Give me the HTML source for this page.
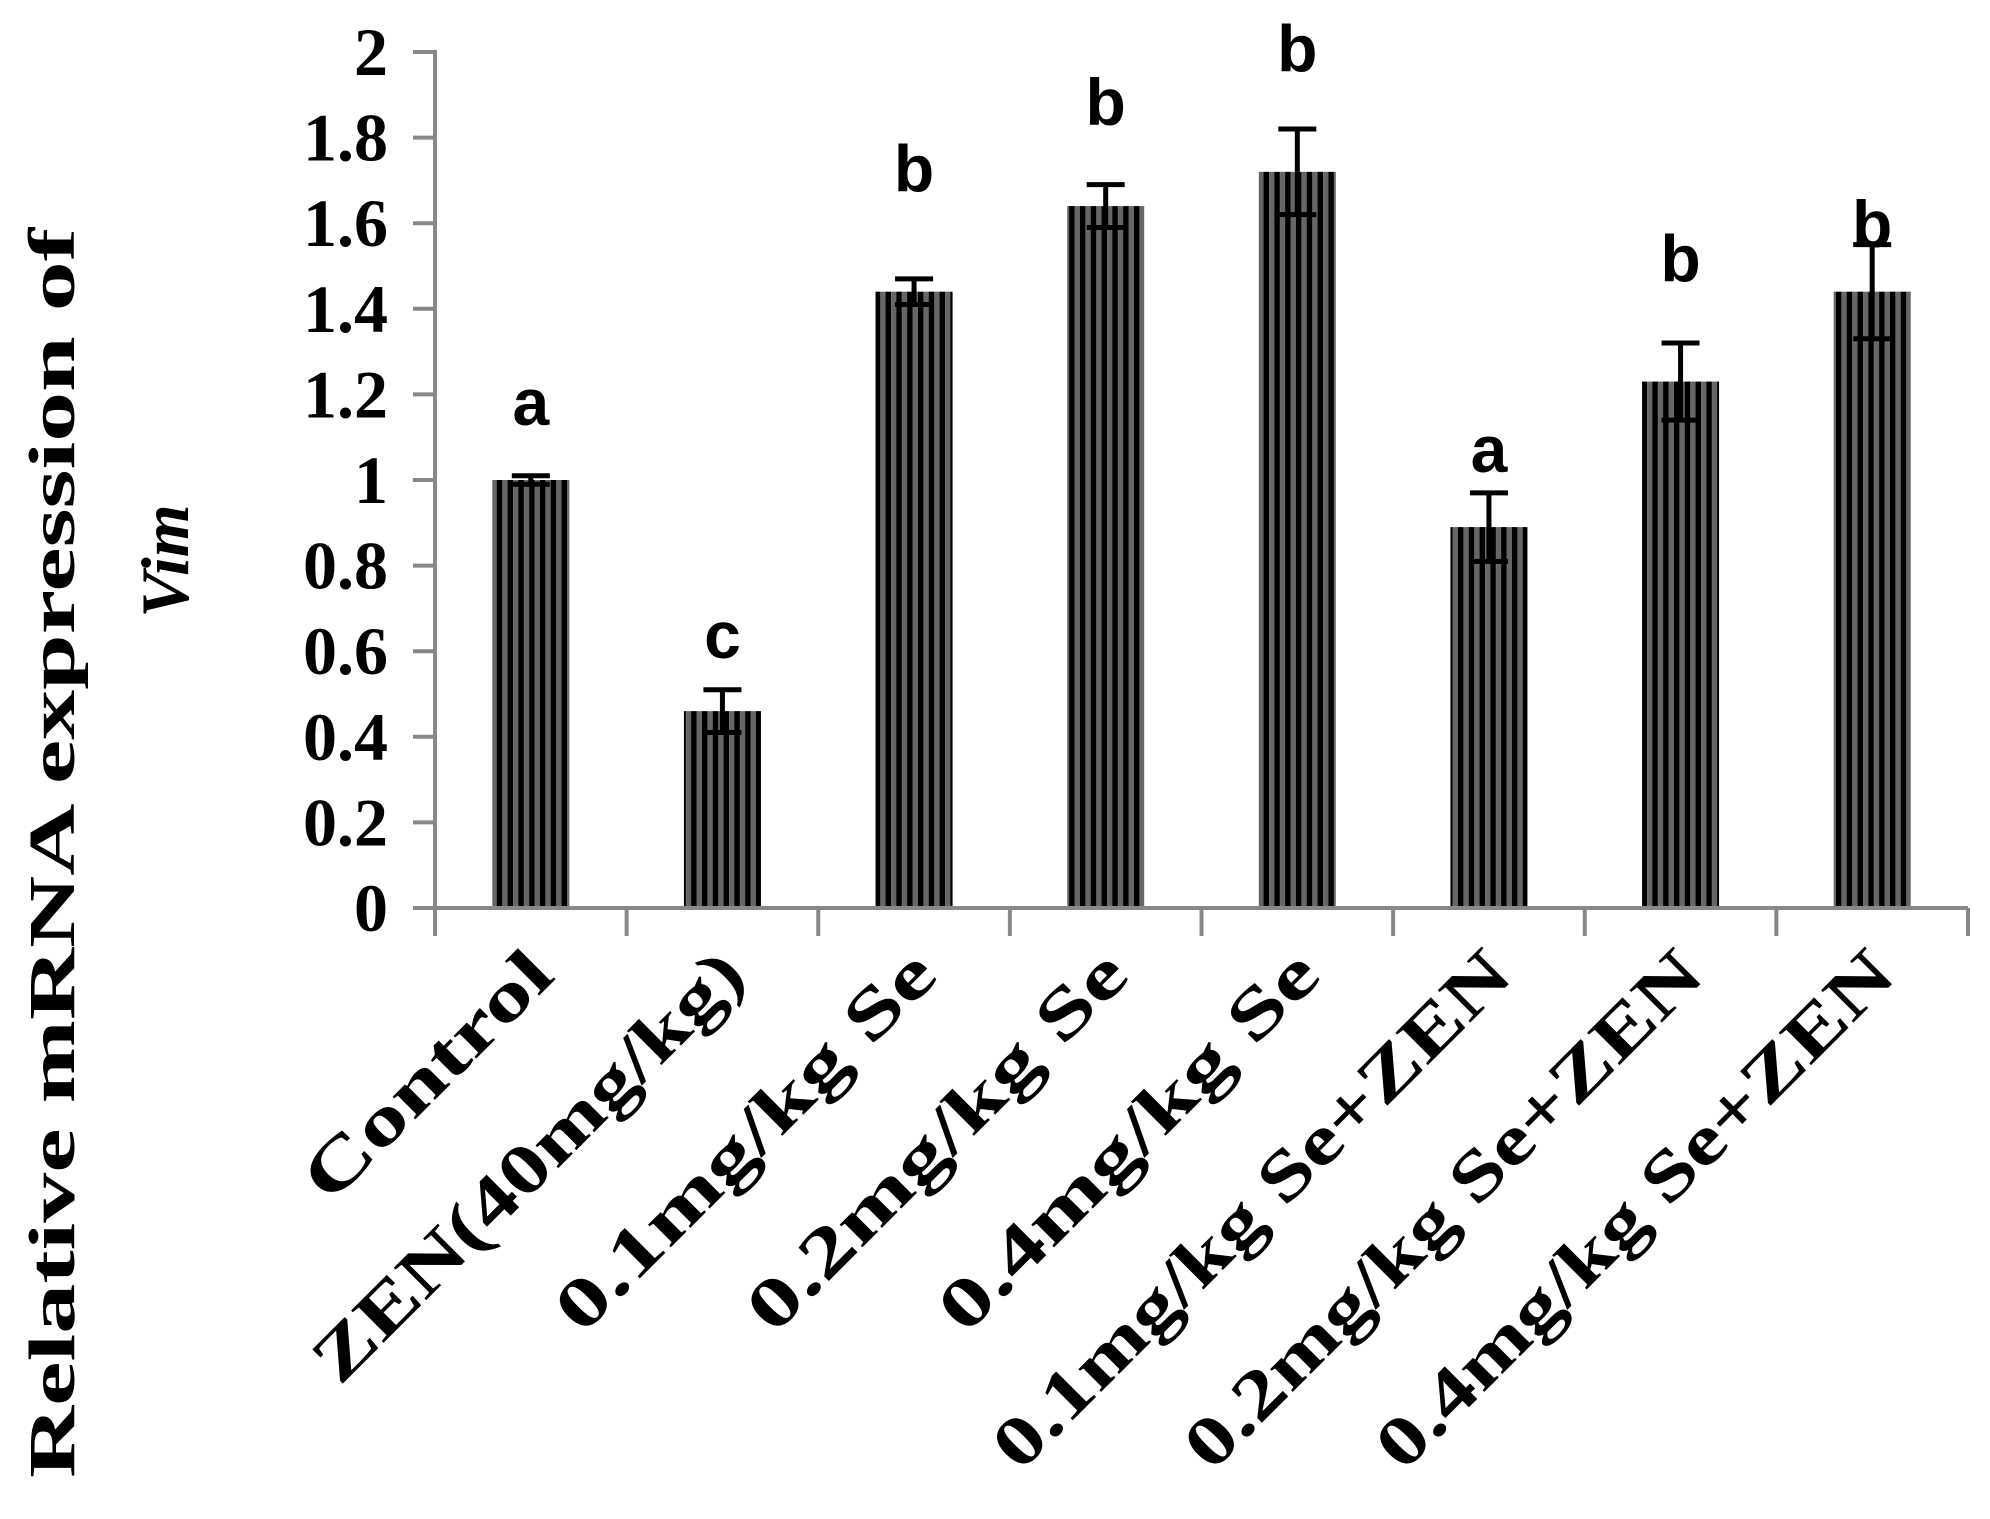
<!DOCTYPE html>
<html><head><meta charset="utf-8"><style>
html,body{margin:0;padding:0;background:#fff;}
svg{display:block;}
</style></head><body>
<svg id="chart" width="1990" height="1519" viewBox="0 0 1990 1519" xmlns="http://www.w3.org/2000/svg">
<defs>
<pattern id="stripes" patternUnits="userSpaceOnUse" width="10.8" height="10">
<rect x="0" y="0" width="5.6" height="10" fill="#000"/>
<rect x="5.6" y="0" width="5.2" height="10" fill="#666"/>
</pattern>
</defs>
<g id="plot"></g>
<text transform="translate(74,853) rotate(-90)" text-anchor="middle" font-family="'Liberation Serif',serif" font-weight="bold" font-size="66" textLength="1250" lengthAdjust="spacingAndGlyphs">Relative mRNA expression of</text>
<text transform="translate(188,561) rotate(-90)" text-anchor="middle" font-family="'Liberation Serif',serif" font-weight="bold" font-style="italic" font-size="68">Vim</text>
</svg>
<script>
const categories = ["Control","ZEN(40mg/kg)","0.1mg/kg Se","0.2mg/kg Se","0.4mg/kg Se","0.1mg/kg Se+ZEN","0.2mg/kg Se+ZEN","0.4mg/kg Se+ZEN"];
const values = [1.0,0.46,1.44,1.64,1.72,0.89,1.23,1.44];
const errors = [0.01,0.05,0.03,0.05,0.10,0.08,0.09,0.11];
const letters = ["a","c","b","b","b","a","b","b"];
const letterPos = [1.185,0.64,1.73,1.885,2.01,1.075,1.52,1.60];
const yTicks = [0,0.2,0.4,0.6,0.8,1,1.2,1.4,1.6,1.8,2];
const yTickLabels = ["0","0.2","0.4","0.6","0.8","1","1.2","1.4","1.6","1.8","2"];

const NS="http://www.w3.org/2000/svg";
const X0=435, X1=1968, Y0=908, Y1=52, YMAX=2;
const band=(X1-X0)/categories.length;
const y=v=>Y0-(v/YMAX)*(Y0-Y1);
const xc=i=>X0+band*(i+0.5);
const g=document.getElementById('plot');
function mk(tag,attrs){const e=document.createElementNS(NS,tag);for(const k in attrs)e.setAttribute(k,attrs[k]);g.appendChild(e);return e;}

values.forEach((v,i)=>{
  const bw=77;
  const r=mk('rect',{x:xc(i)-bw/2,y:y(v),width:bw,height:Y0-y(v),fill:'url(#stripes)'});
  
  
  const cx=xc(i), cw=19;
  const eb=mk('path',{d:`M${cx},${y(v+errors[i])}V${y(v-errors[i])}M${cx-cw},${y(v+errors[i])}H${cx+cw}M${cx-cw},${y(v-errors[i])}H${cx+cw}`,stroke:'#000','stroke-width':5,fill:'none'});
  
  
  const t=mk('text',{x:cx,y:y(letterPos[i])+24,'text-anchor':'middle','font-family':"'Liberation Sans',sans-serif",'font-weight':'bold','font-size':66});
  t.textContent=letters[i];
  
  
});

const ya=mk('line',{x1:X0,y1:Y1-2,x2:X0,y2:Y0+2,stroke:'#888','stroke-width':4});


const xa=mk('line',{x1:X0-2,y1:Y0,x2:X1,y2:Y0,stroke:'#888','stroke-width':4});


yTicks.forEach((v,i)=>{
  const tk=mk('line',{x1:X0-22,y1:y(v),x2:X0,y2:y(v),stroke:'#888','stroke-width':4});
  
  
  const t=mk('text',{x:388,y:y(v)+23,'text-anchor':'end','font-family':"'Liberation Serif',serif",'font-weight':'bold','font-size':68});
  t.textContent=yTickLabels[i];
  
  
});
for(let i=0;i<=categories.length;i++){
  const x=X0+band*i;
  const tk=mk('line',{x1:x,y1:Y0,x2:x,y2:Y0+28,stroke:'#888','stroke-width':4});
  
  
}
const lens=[321,578,506,506,506,700,700,700];
categories.forEach((c,i)=>{
  const ax=xc(i)+26, ay=978;
  const t=mk('text',{transform:`translate(${ax},${ay}) rotate(-45)`,'text-anchor':'end','font-family':"'Liberation Serif',serif",'font-weight':'bold','font-size':70,textLength:lens[i],lengthAdjust:'spacingAndGlyphs'});
  t.textContent=c;
  
  
});
</script>
</body></html>
